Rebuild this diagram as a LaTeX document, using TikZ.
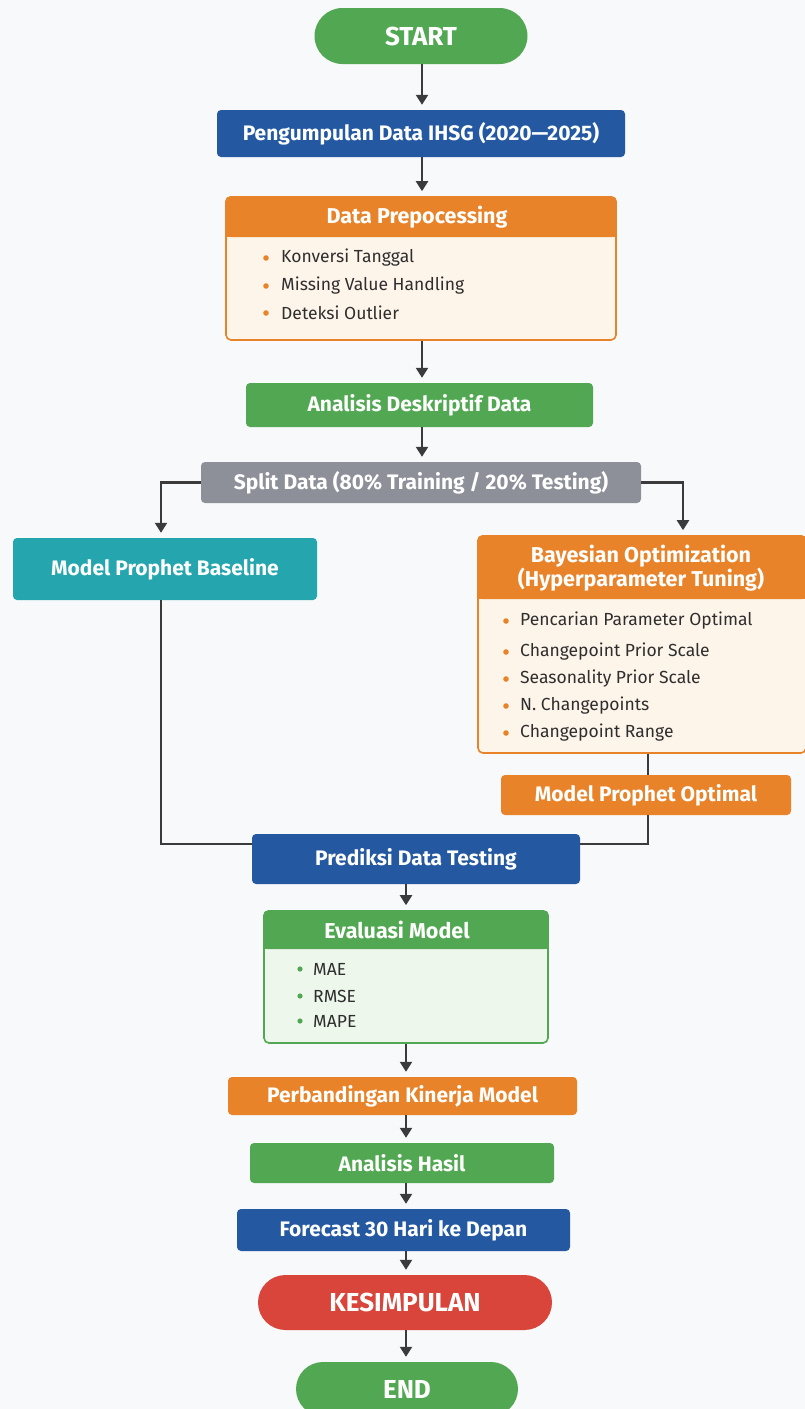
\documentclass[tikz,border=0pt]{standalone}
\usepackage{fontspec}
\setmainfont{Fira Sans}
\usetikzlibrary{arrows.meta,calc,shapes.misc}
\definecolor{bgc}{HTML}{F8F9FA}
\definecolor{cgreen}{HTML}{52A852}
\definecolor{cblue}{HTML}{2459A1}
\definecolor{corange}{HTML}{E8832A}
\definecolor{cgray}{HTML}{8E9099}
\definecolor{cteal}{HTML}{25A6AE}
\definecolor{cred}{HTML}{D9443B}
\definecolor{ccream}{HTML}{FEF5EA}
\definecolor{clgreen}{HTML}{EEF7EC}
\definecolor{cline}{HTML}{3B3B3B}
\definecolor{ctext}{HTML}{2E2E2E}
\begin{document}
\begin{tikzpicture}[x=1pt,y=-1pt,
  box/.style={rectangle, rounded corners=4pt, inner sep=0pt, text=white,
    font=\bfseries\fontsize{21}{24}\selectfont},
  pill/.style={rounded rectangle, inner sep=0pt, text=white,
    font=\bfseries\fontsize{26}{29}\selectfont},
  panel/.style={rectangle, rounded corners=5pt, inner sep=0pt, line width=1.6pt},
  htext/.style={inner sep=0pt, text=white, align=center,
    font=\bfseries\fontsize{21.5}{24}\selectfont},
  itemtext/.style={inner sep=0pt, anchor=west, text=ctext,
    font=\fontsize{17.5}{20}\selectfont},
  arr/.style={draw=cline, line width=2.2pt, -{Triangle[width=12pt,length=10pt]}, shorten >=5pt},
  conn/.style={draw=cline, line width=2.2pt}
]
\useasboundingbox (0,0) rectangle (805,1409);
\clip (0,0) rectangle (805,1409);
\fill[bgc] (0,0) rectangle (805,1409);

\coordinate (ax1) at (422,0);
\coordinate (ax2) at (406,0);
\coordinate (lcol) at (161,0);
\coordinate (rcol) at (683,0);
\coordinate (ocol) at (648,0);

% nodes
\node[pill, fill=cgreen, minimum width=213, minimum height=56] (start) at (421,36) {START};
\node[box, fill=cblue, minimum width=408, minimum height=47] (collect) at (421,133.5) {Pengumpulan Data IHSG (2020—2025)};

% Data preprocessing panel
\node[panel, draw=corange, fill=ccream, minimum width=390, minimum height=143] (prep) at (421,268.5) {};
\fill[corange, rounded corners=5pt] (prep.north west) rectangle ($(prep.north east)+(0,41)$);
\fill[corange] ($(prep.north west)+(0,30)$) rectangle ($(prep.north east)+(0,41)$);
\node[htext] (prephead) at ($(prep.north)+(-4,21)$) {Data Prepocessing};
\node[itemtext] (p1) at (281,258) {Konversi Tanggal};
\node[itemtext] (p2) at (281,286) {Missing Value Handling};
\node[itemtext] (p3) at (281,313) {Deteksi Outlier};
\foreach \n in {p1,p2,p3} \fill[corange] ($(\n.west)+(-15,0)$) circle (2.8pt);

\node[box, fill=cgreen, minimum width=347, minimum height=44] (desc) at (419.5,405) {Analisis Deskriptif Data};
\node[box, fill=cgray, minimum width=440, minimum height=41] (split) at (421,482.5) {Split Data (80\% Training / 20\% Testing)};
\node[box, fill=cteal, minimum width=304, minimum height=62] (base) at (165,569) {Model Prophet Baseline};

% Bayesian panel
\node[panel, draw=corange, fill=ccream, minimum width=328, minimum height=217] (bayes) at (642,644.5) {};
\fill[corange, rounded corners=5pt] (bayes.north west) rectangle ($(bayes.north east)+(0,64)$);
\fill[corange] ($(bayes.north west)+(0,50)$) rectangle ($(bayes.north east)+(0,64)$);
\node[htext] (bayeshead) at (641,568.5) {Bayesian Optimization\\(Hyperparameter Tuning)};
\node[itemtext] (b1) at (520,621) {Pencarian Parameter Optimal};
\node[itemtext] (b2) at (520,652) {Changepoint Prior Scale};
\node[itemtext] (b3) at (520,679) {Seasonality Prior Scale};
\node[itemtext] (b4) at (520,706) {N. Changepoints};
\node[itemtext] (b5) at (520,733) {Changepoint Range};
\foreach \n in {b1,b2,b3,b4,b5} \fill[corange] ($(\n.west)+(-14,0)$) circle (2.8pt);

\node[box, fill=corange, minimum width=290, minimum height=40] (opt) at (646,795) {Model Prophet Optimal};
\node[box, fill=cblue, minimum width=328, minimum height=50] (pred) at (416,859) {Prediksi Data Testing};

% Evaluation panel
\node[panel, draw=cgreen, fill=clgreen, minimum width=284, minimum height=132] (eval) at (406,977) {};
\fill[cgreen, rounded corners=5pt] (eval.north west) rectangle ($(eval.north east)+(0,39)$);
\fill[cgreen] ($(eval.north west)+(0,28)$) rectangle ($(eval.north east)+(0,39)$);
\node[htext] (evalhead) at ($(eval.north)+(-9,20)$) {Evaluasi Model};
\node[itemtext] (e1) at (313,969) {MAE};
\node[itemtext] (e2) at (313,996) {RMSE};
\node[itemtext] (e3) at (313,1021) {MAPE};
\foreach \n in {e1,e2,e3} \fill[cgreen] ($(\n.west)+(-13,0)$) circle (2.6pt);

\node[box, fill=corange, minimum width=349, minimum height=38] (perb) at (402.5,1096) {Perbandingan Kinerja Model};
\node[box, fill=cgreen, minimum width=304, minimum height=40] (hasil) at (402,1163) {Analisis Hasil};
\node[box, fill=cblue, minimum width=333, minimum height=42] (fore) at (403.5,1230) {Forecast 30 Hari ke Depan};
\node[pill, fill=cred, minimum width=294, minimum height=55] (kes) at (405,1302.5) {KESIMPULAN};
\node[pill, fill=cgreen, minimum width=222, minimum height=54] (end) at (407,1389) {END};

% connectors
\draw[arr] (start.south -| ax1) -- (collect.north -| ax1);
\draw[arr] (collect.south -| ax1) -- (prep.north -| ax1);
\draw[arr] (prep.south -| ax1) -- (desc.north -| ax1);
\draw[arr] (desc.south -| ax1) -- (split.north -| ax1);
\draw[arr] (split.west) -| (base.north -| lcol);
\draw[arr] (split.east) -| (bayes.north -| rcol);
\draw[conn] (base.south -| lcol) |- ($(pred.north west)+(0,10)$);
\draw[conn] (bayes.south -| ocol) -- (opt.north -| ocol);
\draw[conn] (opt.south -| ocol) |- ($(pred.north east)+(0,10)$);
\draw[arr] (pred.south -| ax2) -- (eval.north -| ax2);
\draw[arr] (eval.south -| ax2) -- (perb.north -| ax2);
\draw[arr] (perb.south -| ax2) -- (hasil.north -| ax2);
\draw[arr] (hasil.south -| ax2) -- (fore.north -| ax2);
\draw[arr] (fore.south -| ax2) -- (kes.north -| ax2);
\draw[arr] (kes.south -| ax2) -- (end.north -| ax2);
\end{tikzpicture}
\end{document}
